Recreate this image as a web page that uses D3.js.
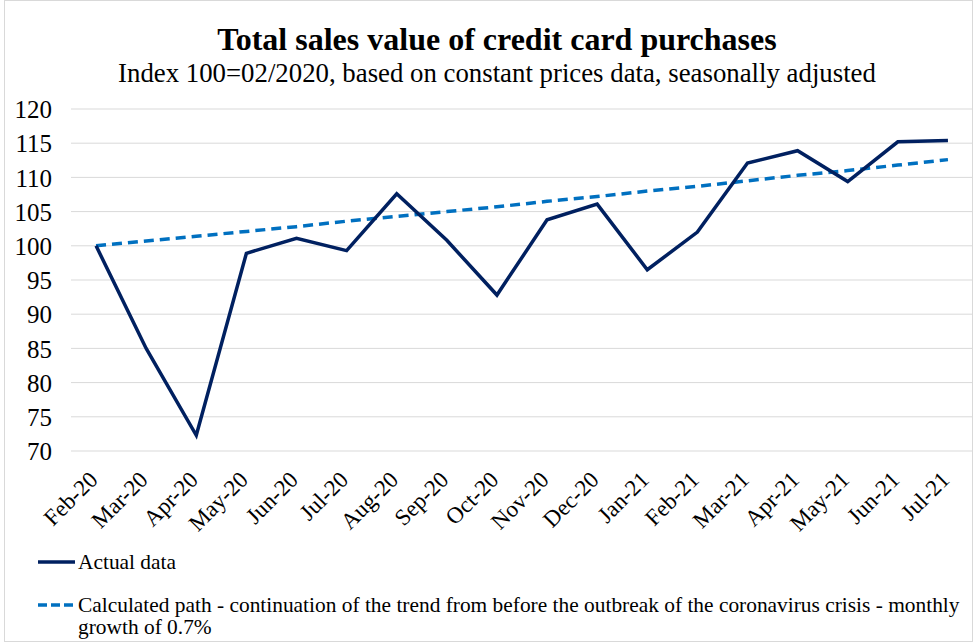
<!DOCTYPE html>
<html>
<head>
<meta charset="utf-8">
<script src="https://cdn.jsdelivr.net/npm/d3@7"></script>
<style>
  body { margin: 0; background: #fff; }
  svg text { font-family: 'Liberation Serif', 'Times New Roman', serif !important; fill: #000; }
</style>
</head>
<body>
<div id="chart"></div>
<script>
const months = ['Feb-20', 'Mar-20', 'Apr-20', 'May-20', 'Jun-20', 'Jul-20', 'Aug-20', 'Sep-20', 'Oct-20',
  'Nov-20', 'Dec-20', 'Jan-21', 'Feb-21', 'Mar-21', 'Apr-21', 'May-21', 'Jun-21', 'Jul-21']

const actual = [100, 85.0, 72.3, 98.9, 101.1, 99.3, 107.6, 100.8, 92.8,
  103.8, 106.1, 96.5, 102.0, 112.1, 113.9, 109.4, 115.2, 115.4]

const trend = [100, 100.7, 101.4, 102.1, 102.8, 103.6, 104.3, 105.0, 105.7,
  106.5, 107.2, 108.0, 108.7, 109.5, 110.3, 111.0, 111.8, 112.6]

const yTicks = [70, 75, 80, 85, 90, 95, 100, 105, 110, 115, 120]

const width = 973
const height = 642
const margin = { top: 109, left: 71, right: 0, bottom: 191 }

const svg = d3.select('#chart')
  .append('svg')
  .attr('width', width)
  .attr('height', height)

svg.append('rect')
  .attr('x', 4.5).attr('y', 0.5)
  .attr('width', width - 5).attr('height', height - 1)
  .attr('fill', 'none')
  .attr('stroke', '#d9d9d9')

const x = d3.scalePoint()
  .domain(months)
  .range([margin.left, width - margin.right])
  .padding(0.5)

const y = d3.scaleLinear()
  .domain([70, 120])
  .range([height - margin.bottom, margin.top])

// title
svg.append('text')
  .attr('x', 497).attr('y', 50)
  .attr('text-anchor', 'middle')
  .attr('font-size', 32)
  .attr('font-weight', 'bold')
  .text('Total sales value of credit card purchases')

svg.append('text')
  .attr('x', 497).attr('y', 82)
  .attr('text-anchor', 'middle')
  .attr('font-size', 26.8)
  .text('Index 100=02/2020, based on constant prices data, seasonally adjusted')

// gridlines
svg.append('g')
  .selectAll('line')
  .data(yTicks)
  .enter()
  .append('line')
  .attr('x1', margin.left)
  .attr('x2', width - margin.right)
  .attr('y1', d => y(d))
  .attr('y2', d => y(d))
  .attr('stroke', '#d9d9d9')
  .attr('stroke-width', 1)

// y axis
const yAxis = svg.append('g')
  .attr('transform', `translate(${margin.left - 19},0)`)
  .call(d3.axisLeft(y).tickValues(yTicks).tickSize(0).tickPadding(0))
yAxis.select('.domain').remove()
yAxis.selectAll('text')
  .attr('font-size', 25)
  .attr('dy', '0.35em')
  .attr('fill', '#000')

// x axis labels
svg.append('g')
  .selectAll('text')
  .data(months)
  .enter()
  .append('text')
  .attr('transform', d => `translate(${x(d) + 3},${height - margin.bottom + 30}) rotate(-45)`)
  .attr('text-anchor', 'end')
  .attr('font-size', 23)
  .text(d => d)

const line = d3.line()
  .x((d, i) => x(months[i]))
  .y(d => y(d))

svg.append('path')
  .datum(trend)
  .attr('d', line)
  .attr('fill', 'none')
  .attr('stroke', '#0070c0')
  .attr('stroke-width', 3.5)
  .attr('stroke-dasharray', '10,6')

svg.append('path')
  .datum(actual)
  .attr('d', line)
  .attr('fill', 'none')
  .attr('stroke', '#002060')
  .attr('stroke-width', 3.5)
  .attr('stroke-linejoin', 'miter')

// legend
const legend = svg.append('g')

legend.append('line')
  .attr('x1', 38).attr('x2', 75)
  .attr('y1', 562).attr('y2', 562)
  .attr('stroke', '#002060')
  .attr('stroke-width', 3.5)

legend.append('text')
  .attr('x', 78).attr('y', 569)
  .attr('font-size', 21.4)
  .text('Actual data')

legend.append('line')
  .attr('x1', 38).attr('x2', 75)
  .attr('y1', 605).attr('y2', 605)
  .attr('stroke', '#0070c0')
  .attr('stroke-width', 3.5)
  .attr('stroke-dasharray', '9,4')

legend.append('text')
  .attr('x', 78).attr('y', 612)
  .attr('font-size', 21.4)
  .text('Calculated path - continuation of the trend from before the outbreak of the coronavirus crisis - monthly')

legend.append('text')
  .attr('x', 78).attr('y', 634)
  .attr('font-size', 21.4)
  .text('growth of 0.7%')
</script>
</body>
</html>
